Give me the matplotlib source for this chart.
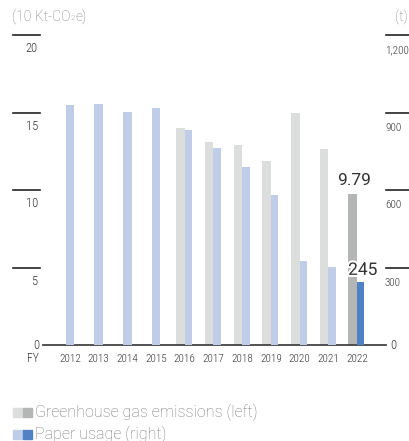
import matplotlib.pyplot as plt
import matplotlib.patheffects as pe
from matplotlib.patches import Rectangle
import matplotlib.transforms as mtransforms

years = ["2012", "2013", "2014", "2015", "2016", "2017", "2018", "2019", "2020", "2021", "2022"]
ghg = [None, None, None, None, 14.0, 13.1, 12.9, 11.9, 15.0, 12.65, 9.79]   # 10 Kt-CO2e
paper = [930, 934, 903, 918, 833, 764, 691, 581, 326, 303, 245]         # t
left_ticks = [0, 5, 10, 15, 20]
right_ticks = ["0", "300", "600", "900", "1,200"]

W, H = 410, 441
narrow = ["Roboto Condensed", "DejaVu Sans"]
light = "Roboto"

gray_l, gray_d = "#dcdddd", "#b4b5b5"
blue_l, blue_d = "#bfcde8", "#4f81c4"
tick_kw = dict(family=narrow, fontstretch="condensed", fontweight="light", color="#333333")
unit_kw = dict(color="#7a7a7a", family=light, fontweight="light")


def fx(px):
    return px / W


def fy(py):
    return 1 - py / H


fig = plt.figure(figsize=(W / 100, H / 100), dpi=100)
ax = fig.add_axes([fx(43), fy(345.3), fx(386) - fx(43), fy(35.3) - fy(345.3)])
ax2 = ax.twinx()
ax.set_ylim(0, 20)
ax2.set_ylim(0, 1200)
ax.set_xlim(-0.94, 11.01)
for a in (ax, ax2):
    a.axis("off")

w = 0.3
for i, (g, p) in enumerate(zip(ghg, paper)):
    last = i == len(years) - 1
    if g is None:
        ax2.bar(i, p, width=w, color=blue_l)
    else:
        ax.bar(i - w / 2, g, width=w, color=gray_d if last else gray_l)
        ax2.bar(i + w / 2 - 0.02, p, width=w - 0.04, color=blue_d if last else blue_l)

# baseline
ax.plot([-0.94, 11.01], [0, 0], color="#444444", lw=1.3, clip_on=False)

# tick lines and labels
trans_l = mtransforms.blended_transform_factory(ax.transAxes, ax.transData)
trans_r = mtransforms.blended_transform_factory(ax2.transAxes, ax2.transData)
for v in left_ticks:
    if v == 0:
        ax.text(-0.012, 0, "0", transform=trans_l, ha="right", va="center", fontsize=9, **tick_kw)
        continue
    ax.plot([-0.087, -0.009], [v, v], transform=trans_l, color="#222222", lw=1.2, clip_on=False)
    ax.annotate(str(v), (-0.015, v), xycoords=trans_l, xytext=(0, -5), textcoords="offset points",
                ha="right", va="top", fontsize=9, **tick_kw)
for v, lab in zip([0, 300, 600, 900, 1200], right_ticks):
    if v == 0:
        ax2.text(1.012, 0, "0", transform=trans_r, ha="left", va="center", fontsize=9, **tick_kw)
        continue
    ax2.plot([1.0, 1.07], [v, v], transform=trans_r, color="#222222", lw=1.2, clip_on=False)
    ax2.annotate(lab, (1.0, v), xycoords=trans_r, xytext=(-0.8, -7), textcoords="offset points",
                 ha="left", va="top", fontsize=8, **tick_kw)

# x labels
for i, y in enumerate(years):
    ax.text(i, -0.9, y, ha="center", va="center", fontsize=8, **tick_kw)
fig.text(fx(33), fy(359), "FY", ha="center", va="center", fontsize=8.5, **tick_kw)

# units
t1 = fig.text(fx(12), fy(25), "(10 Kt-CO", ha="left", va="bottom", fontsize=10, **unit_kw)
t2 = fig.add_artist(plt.Annotation("2", xy=(1, 0.28), xycoords=t1, ha="left", va="bottom",
                                   fontsize=6, **unit_kw))
fig.add_artist(plt.Annotation("e)", xy=(1, 0), xycoords=(t2, t1), ha="left", va="bottom",
                              fontsize=10, **unit_kw))
fig.text(fx(408), fy(25), "(t)", ha="right", va="bottom", fontsize=10, **unit_kw)

# value labels
ax.text(10 - w / 2 + 0.05, ghg[-1] + 0.85, "9.79", ha="center", va="center", fontsize=12.5,
        color="#333333", family=light)
ax2.text(10 + 0.2, paper[-1] + 45, "245", ha="center", va="center", fontsize=12.5,
         color="#333333", family=light,
         path_effects=[pe.withStroke(linewidth=3, foreground="white")])

# legend
for row, (c1, c2, lab) in enumerate([(gray_l, gray_d, "Greenhouse gas emissions (left)"),
                                     (blue_l, blue_d, "Paper usage (right)")]):
    top = 408 + row * 22
    fig.add_artist(Rectangle((fx(13), fy(top + 9)), fx(10), 9 / H, color=c1, transform=fig.transFigure))
    fig.add_artist(Rectangle((fx(23), fy(top + 9)), fx(9), 9 / H, color=c2, transform=fig.transFigure))
    fig.text(fx(35), fy(top + 4.5), lab, ha="left", va="center", fontsize=11.5, **unit_kw)

fig.savefig("out.png", dpi=100)
